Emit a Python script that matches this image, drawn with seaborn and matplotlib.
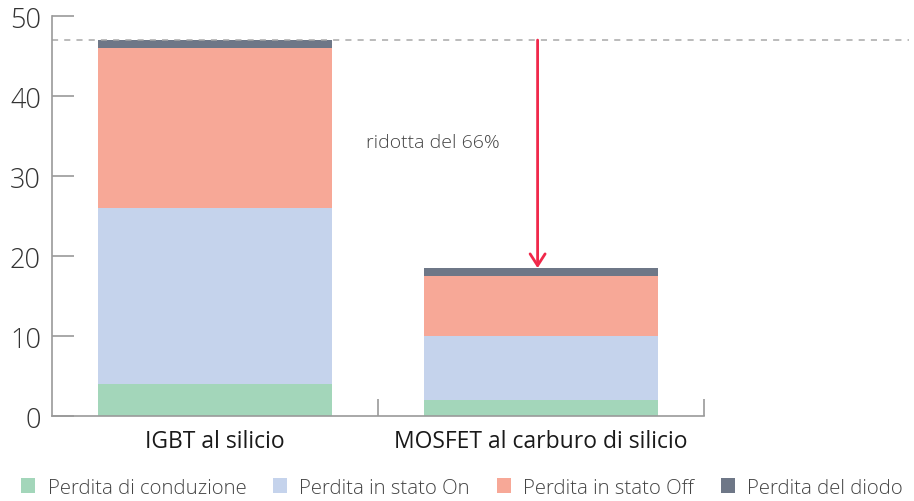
import matplotlib

matplotlib.use("Agg")
import matplotlib.pyplot as plt
from matplotlib.patches import Patch
import numpy as np
import pandas as pd
import seaborn as sns

CATEGORIES = ["IGBT al silicio", "MOSFET al carburo di silicio"]
SERIES = ["Perdita di conduzione", "Perdita in stato On", "Perdita in stato Off", "Perdita del diodo"]
CONDUZIONE = [4.0, 2.0]
STATO_ON = [22.0, 8.0]
STATO_OFF = [20.0, 7.5]
DIODO = [1.0, 1.0]
COLORS = ["#a3d6ba", "#c5d3ec", "#f7a897", "#6e7787"]
REF_LEVEL = 47
NOTE = "ridotta del 66%"

sns.set_theme(style="white")
plt.rcParams["font.family"] = ["Open Sans", "DejaVu Sans"]
plt.rcParams["font.weight"] = "light"

values = np.array([CONDUZIONE, STATO_ON, STATO_OFF, DIODO])
cum = values.cumsum(axis=0)

fig = plt.figure(figsize=(9.14, 5.02), dpi=100)
ax = fig.add_axes([0.057, 0.169, 0.713, 0.797])

# stacked bars: draw cumulative totals from the top layer down
for i in reversed(range(len(SERIES))):
    df = pd.DataFrame({"cat": CATEGORIES, "val": cum[i]})
    sns.barplot(data=df, x="cat", y="val", color=COLORS[i], saturation=1,
                width=0.72, ax=ax, linewidth=0)

ax.set_xlim(-0.5, 1.5)
ax.set_ylim(0, 50)
ax.set_yticks([0, 10, 20, 30, 40, 50])
ax.set_xlabel("")
ax.set_ylabel("")

for side in ["top", "right"]:
    ax.spines[side].set_visible(False)
for side in ["left", "bottom"]:
    ax.spines[side].set_color("#9a9a9a")
    ax.spines[side].set_linewidth(1.2)

ax.tick_params(axis="y", direction="in", length=16, width=1.2, color="#9a9a9a",
               labelsize=19.5, labelcolor="#333333", pad=8, left=True)
ax.tick_params(axis="x", length=0, labelsize=16.5, labelcolor="#1a1a1a", pad=9)
for lab in ax.get_xticklabels():
    lab.set_fontweight("normal")
ax.set_xticks([0.5, 1.5], minor=True)
ax.tick_params(axis="x", which="minor", direction="in", length=12, width=1.2,
               color="#9a9a9a", bottom=True)

# dashed reference at the IGBT total, extending past the axes
ax.plot([-0.5, 2.13], [REF_LEVEL, REF_LEVEL], ls=(0, (4, 4)), color="#a8a8a8",
        lw=1.1, clip_on=False, zorder=1)

ax.annotate("", xy=(0.99, cum[-1][1]), xytext=(0.99, REF_LEVEL),
            arrowprops=dict(arrowstyle="->,head_length=0.7,head_width=0.45",
                            color="#f0284a", lw=2, shrinkA=0, shrinkB=0))
ax.text(0.463, 34.3, NOTE, fontsize=14, color="#444444", va="center", ha="left")

handles = [Patch(facecolor=c, edgecolor="none") for c in COLORS]
fig.legend(handles, SERIES, loc="lower left", bbox_to_anchor=(0.003, -0.03), ncol=4,
           frameon=False, fontsize=14.7, handlelength=0.7, handleheight=0.7,
           handletextpad=0.6, columnspacing=1.3, labelcolor="#444444")

fig.savefig("out.png", dpi=100)
